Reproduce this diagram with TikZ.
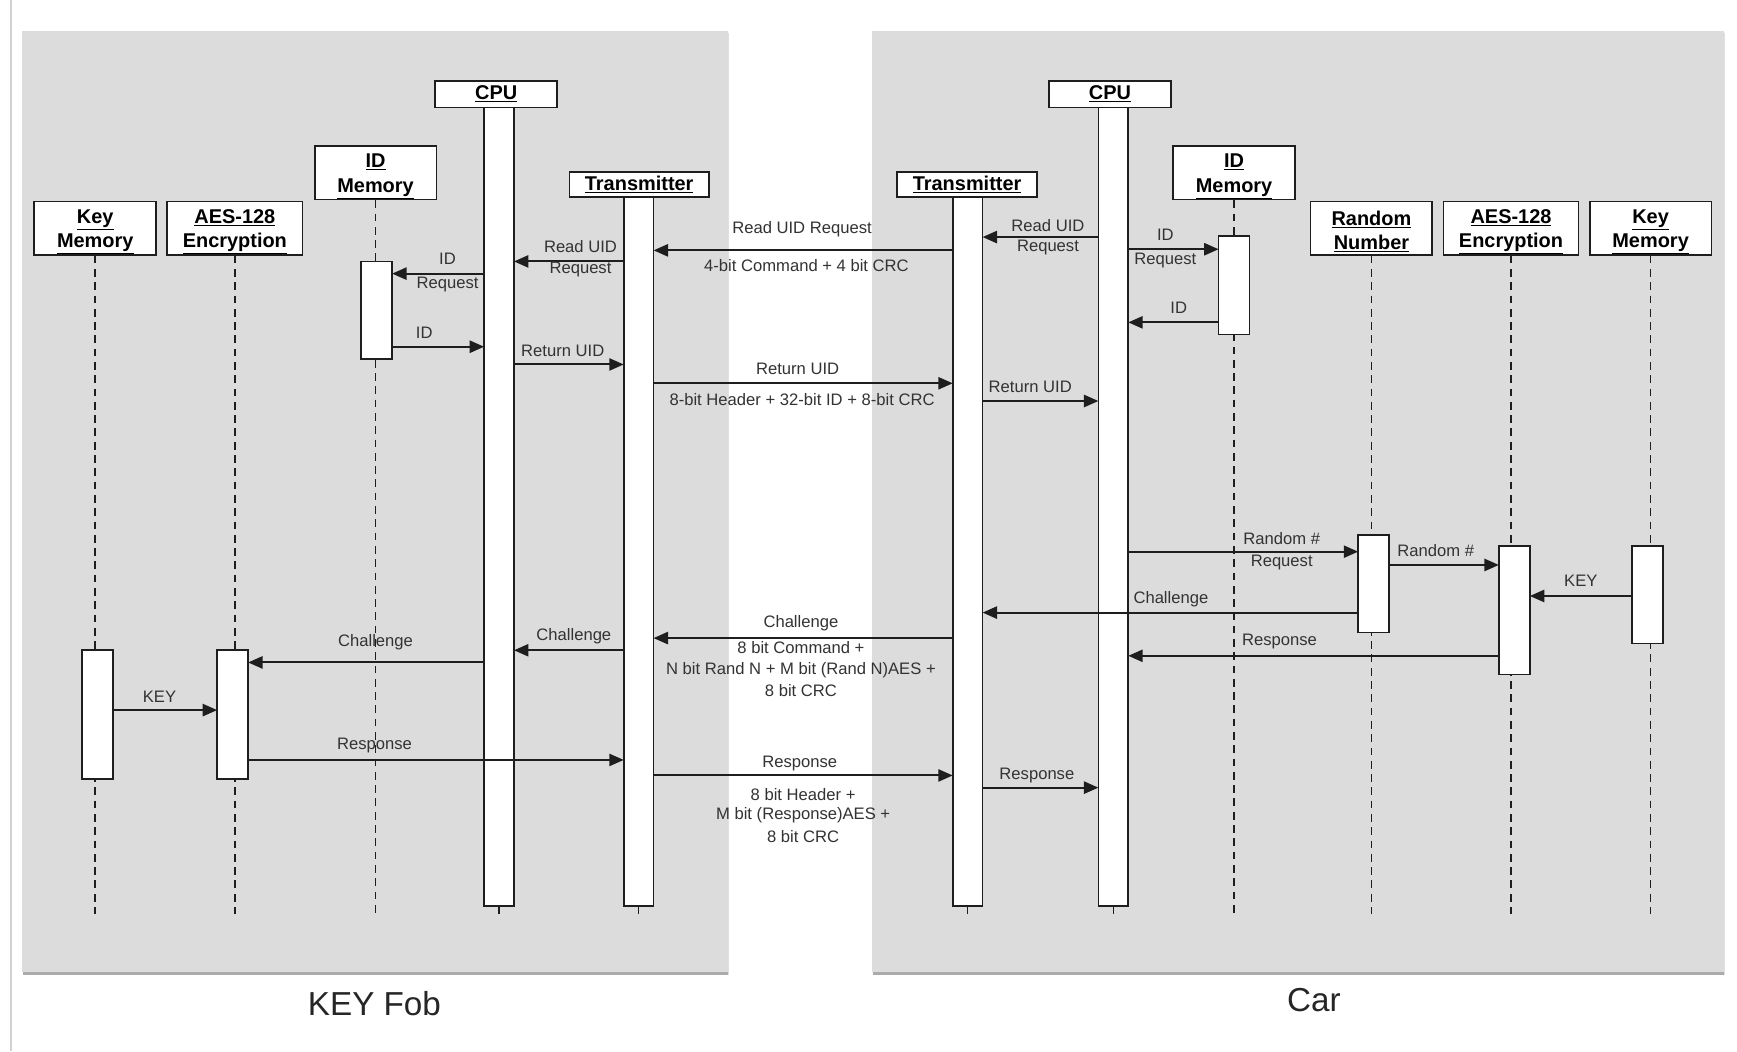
\documentclass[tikz,border=0pt]{standalone}
\usepackage{fontspec}
\setmainfont{Liberation Sans}
\usetikzlibrary{arrows.meta}
\definecolor{panel}{RGB}{220,220,220}
\definecolor{ink}{RGB}{30,30,30}
\newcommand{\hdrtwo}[2]{\rule{0pt}{19pt}\underline{#1}\\\underline{#2}}
\begin{document}
\begin{tikzpicture}[x=1pt,y=-1pt,
  hdr/.style={draw=ink, line width=1.6pt, fill=white, inner sep=0pt, align=center, font=\fontsize{18}{22}\selectfont\bfseries},
  bar/.style={draw=ink, line width=1.5pt, fill=white, inner sep=0pt, outer sep=0pt, minimum width=27pt, anchor=north},
  life/.style={draw=ink, line width=1.4pt, dash pattern=on 7pt off 5pt},
  msg/.style={draw=ink, line width=1.8pt, -{Triangle[length=13pt,width=11pt]}},
  lbl/.style={font=\fontsize{15}{17}\selectfont, text=black!80, inner sep=0pt},
  big/.style={font=\fontsize{30}{34}\selectfont, text=black!85, inner sep=0pt}
]
\useasboundingbox (0,0) rectangle (1568,949);
\fill[white] (0,0) rectangle (1568,949);
\draw[black!18, line width=1.5pt] (10,0) -- (10,949);
% panels
\fill[black!12] (21,30) rectangle (658,880);
\fill[black!33] (21,32) rectangle (657,880);
\fill[panel] (20,28) rectangle (657,877);
\fill[black!12] (788,30) rectangle (1557,880);
\fill[black!33] (788,32) rectangle (1556,880);
\fill[panel] (787,28) rectangle (1556,877);
\node[big] (kf) at (338,906) {KEY Fob};
\node[big] (car) at (1186,903) {Car};
% headers left
\node[hdr, minimum width=110pt, minimum height=48pt] (lkm) at (86,206) {\hdrtwo{Key}{Memory}};
\node[hdr, minimum width=122pt, minimum height=48pt] (laes) at (212,206) {\hdrtwo{AES-128}{Encryption}};
\node[hdr, minimum width=110pt, minimum height=48pt] (lid) at (339,156) {\hdrtwo{ID}{Memory}};
\node[hdr, minimum width=110pt, minimum height=24pt] (lcpu) at (448,85) {\underline{CPU}};
\node[hdr, minimum width=126pt, minimum height=23pt] (ltx) at (577,166.5) {\underline{Transmitter}};
% headers right
\node[hdr, minimum width=126pt, minimum height=23pt] (rtx) at (873,166.5) {\underline{Transmitter}};
\node[hdr, minimum width=110pt, minimum height=24pt] (rcpu) at (1002,85) {\underline{CPU}};
\node[hdr, minimum width=110pt, minimum height=48pt] (rid) at (1114,156) {\hdrtwo{ID}{Memory}};
\node[hdr, minimum width=110pt, minimum height=48pt] (rrn) at (1238,206) {\hdrtwo{Random}{Number}};
\node[hdr, minimum width=122pt, minimum height=48pt] (raes) at (1364,206) {\hdrtwo{AES-128}{Encryption}};
\node[hdr, minimum width=110pt, minimum height=48pt] (rkm) at (1490,206) {\hdrtwo{Key}{Memory}};
% lifelines
\foreach \n in {lkm,laes,lid,rid,rrn,raes,rkm}{
  \draw[life] (\n.south) -- (\n.south |- 0,825);
}
% activation bars
\node[bar, minimum height=721pt] (lcpub) at (450.5,97) {};
\node[bar, minimum height=640pt] (ltxb) at (576.5,178) {};
\node[bar, minimum height=640pt] (rtxb) at (873.5,178) {};
\node[bar, minimum height=721pt] (rcpub) at (1005,97) {};
\node[bar, minimum width=28pt, minimum height=88pt] (lidb) at (340,236) {};
\node[bar, minimum width=28pt, minimum height=116pt] (lkmb) at (88,587) {};
\node[bar, minimum width=28pt, minimum height=116pt] (laesb) at (210,587) {};
\node[bar, minimum width=28pt, minimum height=89pt] (ridb) at (1114,213) {};
\node[bar, minimum width=28pt, minimum height=88pt] (rrnb) at (1240,483) {};
\node[bar, minimum width=28pt, minimum height=116pt] (raesb) at (1367,493) {};
\node[bar, minimum width=28pt, minimum height=88pt] (rkmb) at (1487,493) {};
\foreach \n in {lcpub,ltxb,rtxb,rcpub}{
  \draw[life] (\n.south) -- ++(0,12);
}
% messages left
\draw[msg] (lcpub.west |- 0,247) -- (lidb.east |- 0,247);
\node[lbl] (m1a) at (404,234) {ID};
\node[lbl] (m1b) at (404,257) {Request};
\draw[msg] (lidb.east |- 0,313) -- (lcpub.west |- 0,313);
\node[lbl] (m2) at (383,300) {ID};
\draw[msg] (ltxb.west |- 0,236) -- (lcpub.east |- 0,236);
\node[lbl] (m3a) at (524,223) {Read UID};
\node[lbl] (m3b) at (524,243) {Request};
\draw[msg] (lcpub.east |- 0,329) -- (ltxb.west |- 0,329);
\node[lbl] (m4) at (508,317) {Return UID};
% between transmitters
\draw[msg] (rtxb.west |- 0,226) -- (ltxb.east |- 0,226);
\node[lbl] (m5a) at (724,207) {Read UID Request};
\node[lbl] (m5b) at (728,240) {4-bit Command + 4 bit CRC};
\draw[msg] (ltxb.east |- 0,346) -- (rtxb.west |- 0,346);
\node[lbl] (m6a) at (720,333) {Return UID};
\node[lbl] (m6b) at (724,361) {8-bit Header + 32-bit ID + 8-bit CRC};
% right
\draw[msg] (rcpub.west |- 0,214) -- (rtxb.east |- 0,214);
\node[lbl] (m7a) at (946,204) {Read UID};
\node[lbl] (m7b) at (946,223) {Request};
\draw[msg] (rtxb.east |- 0,362) -- (rcpub.west |- 0,362);
\node[lbl] (m8) at (930,349) {Return UID};
\draw[msg] (rcpub.east |- 0,225) -- (ridb.west |- 0,225);
\node[lbl] (m9a) at (1052,212) {ID};
\node[lbl] (m9b) at (1052,235) {Request};
\draw[msg] (ridb.west |- 0,291) -- (rcpub.east |- 0,291);
\node[lbl] (m10) at (1064,278) {ID};
\draw[msg] (rcpub.east |- 0,498) -- (rrnb.west |- 0,498);
\node[lbl] (m11a) at (1157,486) {Random \#};
\node[lbl] (m11b) at (1157,508) {Request};
\draw[msg] (rrnb.east |- 0,510) -- (raesb.west |- 0,510);
\node[lbl] (m12) at (1296,497) {Random \#};
\draw[msg] (rkmb.west |- 0,538) -- (raesb.east |- 0,538);
\node[lbl] (m13) at (1427,524) {KEY};
\draw[msg] (rrnb.west |- 0,553) -- (rtxb.east |- 0,553);
\node[lbl] (m14) at (1057,541) {Challenge};
\draw[msg] (raesb.west |- 0,592) -- (rcpub.east |- 0,592);
\node[lbl] (m15) at (1155,579) {Response};
% challenge across
\draw[msg] (rtxb.west |- 0,576) -- (ltxb.east |- 0,576);
\node[lbl] (m16a) at (723,563) {Challenge};
\node[lbl] (m16b) at (723,585) {8 bit Command +};
\node[lbl] (m16c) at (723,605) {N bit Rand N + M bit (Rand N)AES +};
\node[lbl] (m16d) at (723,623) {8 bit CRC};
\draw[msg] (ltxb.west |- 0,587) -- (lcpub.east |- 0,587);
\node[lbl] (m17) at (518,574) {Challenge};
\draw[msg] (lcpub.west |- 0,598) -- (laesb.east |- 0,598);
\node[lbl] (m18) at (339,580) {Challenge};
\draw[msg] (lkmb.east |- 0,641) -- (laesb.west |- 0,641);
\node[lbl] (m19) at (144,629) {KEY};
\draw[msg] (laesb.east |- 0,686) -- (ltxb.west |- 0,686);
\node[lbl] (m20) at (338,673) {Response};
\draw[msg] (ltxb.east |- 0,700) -- (rtxb.west |- 0,700);
\node[lbl] (m21a) at (722,689) {Response};
\node[lbl] (m21b) at (725,717) {8 bit Header +};
\node[lbl] (m21c) at (725,736) {M bit (Response)AES +};
\node[lbl] (m21d) at (725,755) {8 bit CRC};
\draw[msg] (rtxb.east |- 0,711) -- (rcpub.west |- 0,711);
\node[lbl] (m22) at (936,700) {Response};
\end{tikzpicture}
\end{document}
